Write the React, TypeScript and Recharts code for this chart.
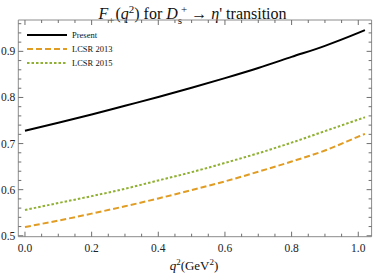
import React from 'react';
import { LineChart, Line, XAxis, YAxis } from 'recharts';

// q^2 grid (GeV^2) and the three form-factor curves
const qsq = [0, 0.1, 0.2, 0.3, 0.4, 0.5, 0.6, 0.7, 0.8, 0.9, 1.0, 1.02];
const present = [0.728, 0.745, 0.763, 0.782, 0.801, 0.821, 0.842, 0.864, 0.888, 0.912, 0.94, 0.946];
const lcsr2013 = [0.519, 0.533, 0.548, 0.564, 0.581, 0.599, 0.618, 0.639, 0.661, 0.685, 0.715, 0.721];
const lcsr2015 = [0.556, 0.571, 0.586, 0.602, 0.62, 0.638, 0.658, 0.679, 0.702, 0.727, 0.752, 0.757];

const xTicks = [0, 0.05, 0.1, 0.15, 0.2, 0.25, 0.3, 0.35, 0.4, 0.45, 0.5, 0.55, 0.6, 0.65, 0.7, 0.75, 0.8, 0.85, 0.9, 0.95, 1.0];
const yTicks = [0.5, 0.52, 0.54, 0.56, 0.58, 0.6, 0.62, 0.64, 0.66, 0.68, 0.7, 0.72, 0.74, 0.76, 0.78, 0.8, 0.82, 0.84, 0.86, 0.88, 0.9, 0.92, 0.94, 0.96];

const data = qsq.map((q, i) => ({
  q,
  present: present[i],
  lcsr2013: lcsr2013[i],
  lcsr2015: lcsr2015[i],
}));

const FONT = '"Liberation Serif", "DejaVu Serif", serif';
const FRAME = '#8c8c8c';
const TICK = '#6e6e6e';
const X_DOMAIN = [-0.02, 1.04];
const Y_DOMAIN = [0.498, 0.968];

// chart box
const W = 374;
const H = 280;
const M = { top: 19, right: 1.4, bottom: 42.3, left: 17.3 };
// frame edges (axes are 1px thick)
const PLOT_TOP = M.top + 1;
const PLOT_RIGHT = W - M.right - 1;

const isMajor = (v: number, per: number) => Math.abs(v * per - Math.round(v * per)) < 1e-6;

// bottom axis tick: inward mark on bottom + matching mark on the top frame, label under
const BottomTick = (props: any) => {
  const { x, y, payload } = props;
  const v = payload.value as number;
  const major = isMajor(v, 5);
  const len = major ? 5 : 3;
  return (
    <g>
      <path d={`M${x},${y}V${y - len}M${x},${PLOT_TOP}V${PLOT_TOP + len}`} stroke={TICK} strokeWidth={1} fill="none" />
      {major && (
        <text x={x} y={y + 15} textAnchor="middle" fontFamily={FONT} fontSize={11.5} fill="#222">
          {v.toFixed(1)}
        </text>
      )}
    </g>
  );
};

// left axis tick: inward mark on left + matching mark on the right frame
const LeftTick = (props: any) => {
  const { x, y, payload } = props;
  const v = payload.value as number;
  const major = isMajor(v, 10);
  const len = major ? 5 : 3;
  return (
    <g>
      <path d={`M${x},${y}H${x + len}M${PLOT_RIGHT},${y}H${PLOT_RIGHT - len}`} stroke={TICK} strokeWidth={1} fill="none" />
      {major && (
        <text x={x - 3} y={y + 4} textAnchor="end" fontFamily={FONT} fontSize={11.5} fill="#222">
          {v.toFixed(1)}
        </text>
      )}
    </g>
  );
};

const legendItems = [
  { label: 'Present', color: '#000000', dash: undefined as string | undefined },
  { label: 'LCSR 2013', color: '#E19C24', dash: '6 3' },
  { label: 'LCSR 2015', color: '#8FB032', dash: '2.5 2' },
];

const App: React.FC = () => {
  return (
    <div style={{ position: 'absolute', left: 0, top: 0, width: W, height: H, fontFamily: FONT, background: '#fff' }}>
      <div
        style={{
          position: 'absolute',
          left: 0,
          width: 385,
          top: -1,
          textAlign: 'center',
          fontSize: 16,
          lineHeight: '20px',
          color: '#111',
          whiteSpace: 'nowrap',
        }}
      >
        <i>F</i>
        <sub style={{ fontSize: 11, marginRight: 1 }}>+</sub>(<i>q</i>
        <sup style={{ fontSize: 11 }}>2</sup>) for <i>D</i>
        <sub style={{ fontSize: 11 }}>s</sub>
        <sup style={{ fontSize: 11, marginLeft: -1 }}>+</sup> → <i>η</i>' transition
      </div>

      <LineChart width={W} height={H} data={data} margin={M}>
        <XAxis
          xAxisId="b"
          dataKey="q"
          type="number"
          domain={X_DOMAIN}
          allowDataOverflow
          ticks={xTicks}
          interval={0}
          height={1}
          tickSize={0}
          tickMargin={0}
          tickLine={false}
          axisLine={{ stroke: FRAME }}
          tick={BottomTick}
        />
        <XAxis
          xAxisId="t"
          dataKey="q"
          orientation="top"
          type="number"
          domain={X_DOMAIN}
          allowDataOverflow
          height={1}
          tickLine={false}
          tick={false}
          axisLine={{ stroke: FRAME }}
        />
        <YAxis
          yAxisId="l"
          type="number"
          domain={Y_DOMAIN}
          allowDataOverflow
          ticks={yTicks}
          interval={0}
          width={1}
          tickSize={0}
          tickMargin={0}
          tickLine={false}
          axisLine={{ stroke: FRAME }}
          tick={LeftTick}
        />
        <YAxis
          yAxisId="r"
          dataKey="present"
          orientation="right"
          type="number"
          domain={Y_DOMAIN}
          allowDataOverflow
          width={1}
          tickLine={false}
          tick={false}
          axisLine={{ stroke: FRAME }}
        />
        <Line xAxisId="b" yAxisId="l" type="monotone" dataKey="present" stroke="#000" strokeWidth={2} dot={false} isAnimationActive={false} />
        <Line xAxisId="b" yAxisId="l" type="monotone" dataKey="lcsr2013" stroke="#E19C24" strokeWidth={2} strokeDasharray="6 3" dot={false} isAnimationActive={false} />
        <Line xAxisId="b" yAxisId="l" type="monotone" dataKey="lcsr2015" stroke="#8FB032" strokeWidth={2} strokeDasharray="2.5 2" dot={false} isAnimationActive={false} />
      </LineChart>

      <svg style={{ position: 'absolute', left: 0, top: 0 }} width={160} height={80}>
        {legendItems.map((it, i) => (
          <g key={it.label}>
            <line x1={27} x2={67} y1={35 + i * 14} y2={35 + i * 14} stroke={it.color} strokeWidth={2} strokeDasharray={it.dash} />
            <text x={72} y={38 + i * 14} fontFamily={FONT} fontSize={8.5} fill="#111">
              {it.label}
            </text>
          </g>
        ))}
      </svg>

      <div
        style={{
          position: 'absolute',
          left: 0,
          width: 388,
          top: 257,
          textAlign: 'center',
          fontSize: 13,
          color: '#111',
          whiteSpace: 'nowrap',
        }}
      >
        <i>q</i>
        <sup style={{ fontSize: 9 }}>2</sup>(GeV<sup style={{ fontSize: 9 }}>2</sup>)
      </div>
    </div>
  );
};

export default App;
